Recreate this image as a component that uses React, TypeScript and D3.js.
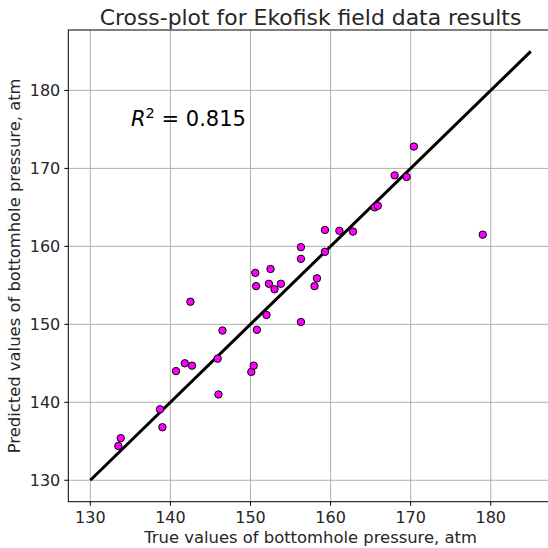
import React from "react";
import * as d3 from "d3";

const trueValues = [133.5, 133.8, 138.7, 139.0, 140.7, 141.8, 142.7, 142.5, 145.9, 146.0, 146.5, 150.1, 150.4, 150.6, 150.7, 150.8, 152.0, 152.3, 152.5, 153.0, 153.8, 156.3, 156.3, 156.3, 158.0, 158.3, 159.3, 159.3, 161.1, 162.8, 165.5, 165.9, 168.0, 169.5, 170.4, 179.0];
const predictedValues = [134.4, 135.4, 139.1, 136.8, 144.0, 145.0, 144.7, 152.9, 145.6, 141.0, 149.2, 143.9, 144.7, 156.6, 154.9, 149.3, 151.2, 155.2, 157.1, 154.5, 155.2, 150.3, 158.4, 159.9, 154.9, 155.9, 159.3, 162.1, 162.0, 161.9, 165.0, 165.2, 169.1, 168.9, 172.8, 161.5];
const fitLine = [130, 185];
const xTicks = [130, 140, 150, 160, 170, 180];
const yTicks = [130, 140, 150, 160, 170, 180];
const domain = [127.25, 187.75];

const W = 548, H = 548;
const left = 68.3, right = 552.8, top = 30, bottom = 501.7;

export default function App() {
  const x = d3.scaleLinear().domain(domain).range([left, right]);
  const y = d3.scaleLinear().domain(domain).range([bottom, top]);
  const font = "DejaVu Sans, sans-serif";
  const line = d3.line<number>().x((d) => x(d)).y((d) => y(d));
  return (
    <svg width={W} height={H} style={{ position: "absolute", left: 0, top: 0, background: "#fff" }} fontFamily={font}>
      <rect x={0} y={0} width={W} height={H} fill="#fff" />
      {xTicks.map((t) => (
        <line key={"gx" + t} x1={x(t)} x2={x(t)} y1={top} y2={bottom} stroke="#b0b0b0" strokeWidth={1} />
      ))}
      {yTicks.map((t) => (
        <line key={"gy" + t} x1={left} x2={right} y1={y(t)} y2={y(t)} stroke="#b0b0b0" strokeWidth={1} />
      ))}
      <path d={line(fitLine) || ""} stroke="#000" strokeWidth={3} fill="none" />
      {trueValues.map((v, i) => (
        <circle key={i} cx={x(v)} cy={y(predictedValues[i])} r={3.7} fill="#ff00ff" stroke="#000" strokeWidth={1} />
      ))}
      <rect x={left} y={top} width={right - left} height={bottom - top} fill="none" stroke="#000" strokeWidth={1} />
      {xTicks.map((t) => (
        <g key={"tx" + t}>
          <line x1={x(t)} x2={x(t)} y1={bottom} y2={bottom + 4} stroke="#000" />
          <text x={x(t)} y={bottom + 21.5} textAnchor="middle" fontSize={16} fill="#262626">{t}</text>
        </g>
      ))}
      {yTicks.map((t) => (
        <g key={"ty" + t}>
          <line x1={left - 4} x2={left} y1={y(t)} y2={y(t)} stroke="#000" />
          <text x={left - 8} y={y(t) + 6} textAnchor="end" fontSize={16} fill="#262626">{t}</text>
        </g>
      ))}
      <text x={(left + right) / 2} y={543} textAnchor="middle" fontSize={16.4} fill="#262626">True values of bottomhole pressure, atm</text>
      <text transform={`translate(20,${(top + bottom) / 2}) rotate(-90)`} textAnchor="middle" fontSize={16.4} fill="#262626">Predicted values of bottomhole pressure, atm</text>
      <text x={(left + right) / 2} y={25} textAnchor="middle" fontSize={21.9} fill="#262626">Cross-plot for Ekofisk field data results</text>
      <text x={131} y={y(175.5)} fontSize={21} fill="#000">
        <tspan fontStyle="italic">R</tspan>
        <tspan dy={-8} fontSize={14.5}>2</tspan>
        <tspan dy={8}> = 0.815</tspan>
      </text>
    </svg>
  );
}
